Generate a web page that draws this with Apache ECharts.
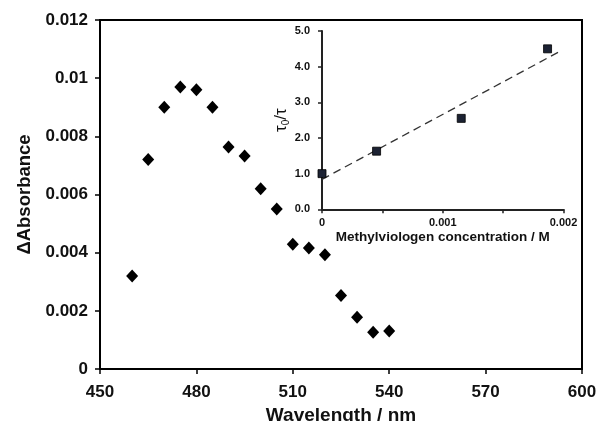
<!DOCTYPE html>
<html>
<head>
<meta charset="utf-8">
<script src="https://cdn.jsdelivr.net/npm/echarts@6/dist/echarts.min.js"></script>
<style>
html,body{margin:0;padding:0;background:#fff;}
#c{width:596px;height:421px;}
</style>
</head>
<body>
<div id="c"></div>
<script>
// Main spectrum
const wavelengths = [460,465,470,475,480,485,490,495,500,505,510,515,520,525,530,535,540];
const dAbs = [0.0032,0.0072,0.0090,0.0097,0.0096,0.0090,0.00763,0.00732,0.0062,0.0055,0.00429,0.00416,0.00393,0.00253,0.00178,0.00126,0.00131];
const mainXTicks = [450,480,510,540,570,600];
const mainYTicks = ['0','0.002','0.004','0.006','0.008','0.01','0.012'];
// Inset Stern-Volmer
const mvConc = [0, 0.000452, 0.001153, 0.001868];
const tauRatio = [1.0, 1.63, 2.55, 4.50];
const fitX = [0, 0.00196];
const fitY = [0.84, 4.41];
const insetXTicks = ['0','0.001','0.002'];
const insetYTicks = ['0.0','1.0','2.0','3.0','4.0','5.0'];

const FONT = 'Liberation Sans, Arial, sans-serif';
const chart = echarts.init(document.getElementById('c'), null, {renderer:'canvas'});
const black = '#000';

chart.setOption({
  backgroundColor:'#fff',
  animation:false,
  grid:[
    {left:100, top:20, right:14, bottom:52, show:true, borderColor:black, borderWidth:2, backgroundColor:'transparent',
     containLabel:false, outerBoundsMode:'none'},
    {left:322, top:31, right:32.5, bottom:211.7, containLabel:false, outerBoundsMode:'none'}
  ],
  xAxis:[
    {gridIndex:0, type:'value', min:450, max:600, interval:30,
     axisLine:{lineStyle:{color:black,width:2}},
     axisTick:{show:true,length:5,lineStyle:{color:black,width:1.5}},
     splitLine:{show:false},
     axisLabel:{color:'#111',fontFamily:FONT,fontWeight:'bold',fontSize:17,margin:15,
       formatter:v=>{const i=mainXTicks.indexOf(Math.round(v));return i>=0?String(mainXTicks[i]):'';}},
     name:'Wavelength / nm', nameLocation:'middle', nameGap:37,
     nameTextStyle:{color:'#111',fontFamily:FONT,fontWeight:'bold',fontSize:19}},
    {gridIndex:1, type:'value', min:0, max:0.002, interval:0.0005,
     axisLine:{lineStyle:{color:'#222',width:2}},
     axisTick:{show:true,length:4,lineStyle:{color:'#222',width:1.5}},
     splitLine:{show:false},
     axisLabel:{color:'#111',fontFamily:FONT,fontWeight:'bold',fontSize:11,margin:8,
       showMinLabel:true, showMaxLabel:true,
       formatter:v=>{const k=Math.round(v*2000);return (k%2===0)?insetXTicks[k/2]:'';}},
     name:'Methylviologen concentration / M', nameLocation:'middle', nameGap:21,
     nameTextStyle:{color:'#111',fontFamily:FONT,fontWeight:'bold',fontSize:13.5}}
  ],
  yAxis:[
    {gridIndex:0, type:'value', min:0, max:0.012, interval:0.002,
     axisLine:{lineStyle:{color:black,width:2}},
     axisTick:{show:true,length:5,lineStyle:{color:black,width:1.5}},
     splitLine:{show:false},
     axisLabel:{color:'#111',fontFamily:FONT,fontWeight:'bold',fontSize:17,margin:12,
       formatter:v=>mainYTicks[Math.round(v/0.002)]},
     name:'ΔAbsorbance', nameLocation:'middle', nameGap:56, nameRotate:90,
     nameTextStyle:{color:'#111',fontFamily:FONT,fontWeight:'bold',fontSize:18.5}},
    {gridIndex:1, type:'value', min:0, max:5, interval:1,
     axisLine:{lineStyle:{color:'#222',width:2}},
     axisTick:{show:true,length:4,lineStyle:{color:'#222',width:1.5}},
     splitLine:{show:false},
     axisLabel:{color:'#111',fontFamily:FONT,fontWeight:'bold',fontSize:11,margin:12,
       formatter:v=>insetYTicks[Math.round(v)]},
     name:'{a|τ}{s|0}{a|/τ}', nameLocation:'middle', nameGap:31, nameRotate:90,
     nameTextStyle:{color:'#111',fontFamily:FONT,
       rich:{a:{fontSize:17,fontFamily:FONT,color:'#111'},
             s:{fontSize:10,fontFamily:FONT,color:'#111',padding:[9,0,0,0]}}}}
  ],
  series:[
    {type:'scatter', xAxisIndex:0, yAxisIndex:0, symbol:'diamond', symbolSize:[12,13],
     itemStyle:{color:black,opacity:1}, data:wavelengths.map((w,i)=>[w,dAbs[i]])},
    {type:'line', xAxisIndex:1, yAxisIndex:1, showSymbol:false, symbol:'none',
     lineStyle:{color:'#333',width:1.3,type:[8,5]}, data:fitX.map((x,i)=>[x,fitY[i]]), z:2},
    {type:'scatter', xAxisIndex:1, yAxisIndex:1, symbol:'rect', symbolSize:8,
     itemStyle:{color:'#1c2233',borderColor:'#000',borderWidth:0.8,opacity:1}, data:mvConc.map((x,i)=>[x,tauRatio[i]]), z:3}
  ]
});
</script>
</body>
</html>
